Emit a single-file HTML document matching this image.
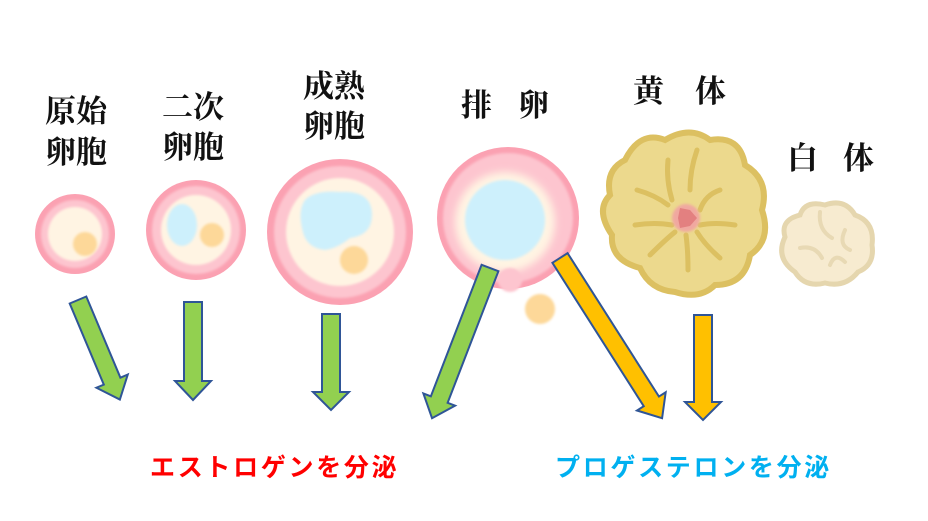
<!DOCTYPE html>
<html><head><meta charset="utf-8"><style>
html,body{margin:0;padding:0;background:#fff;width:928px;height:521px;overflow:hidden}
svg{display:block}
.t{font-family:"Liberation Serif","Noto Serif CJK SC",serif;font-weight:bold;font-size:31px;fill:#111}
.b{font-family:"Liberation Sans","Noto Sans CJK JP",sans-serif;font-weight:bold;font-size:25px;letter-spacing:2.7px}
</style></head><body>
<svg width="928" height="521" viewBox="0 0 928 521" xmlns="http://www.w3.org/2000/svg">
<defs>
<filter id="bl" x="-20%" y="-20%" width="140%" height="140%"><feGaussianBlur stdDeviation="1.2"/></filter>
<filter id="bl2" x="-30%" y="-30%" width="160%" height="160%"><feGaussianBlur stdDeviation="4"/></filter>
</defs>
<text class="t" x="45" y="122">原始</text>
<text class="t" x="45" y="163">卵胞</text>
<text class="t" x="162" y="118">二次</text>
<text class="t" x="162" y="158">卵胞</text>
<text class="t" x="303" y="97">成熟</text>
<text class="t" x="303" y="137">卵胞</text>
<text class="t" x="461" y="116">排</text>
<text class="t" x="518" y="116">卵</text>
<text class="t" x="633" y="102">黄</text>
<text class="t" x="695" y="102">体</text>
<text class="t" x="787" y="169">白</text>
<text class="t" x="843" y="169">体</text>

<!-- follicle 1 -->
<circle cx="75" cy="234" r="40" fill="#fba1b2"/>
<circle cx="75" cy="234" r="34" fill="#fdc5cf" filter="url(#bl)"/>
<circle cx="75" cy="234" r="27" fill="#fff4e3" filter="url(#bl)"/>
<circle cx="85" cy="244" r="12" fill="#fdd899" filter="url(#bl)"/>
<!-- follicle 2 -->
<circle cx="196" cy="230" r="50" fill="#fba1b2"/>
<circle cx="196" cy="230" r="44" fill="#fdc5cf" filter="url(#bl)"/>
<circle cx="196" cy="230" r="35" fill="#fff4e3" filter="url(#bl)"/>
<ellipse cx="182" cy="225" rx="15" ry="21" fill="#cdf0fc" filter="url(#bl)"/>
<circle cx="212" cy="235" r="12" fill="#fdd899" filter="url(#bl)"/>
<!-- follicle 3 -->
<circle cx="340" cy="232" r="73" fill="#fba1b2"/>
<circle cx="340" cy="232" r="66" fill="#fdc5cf" filter="url(#bl)"/>
<circle cx="340" cy="232" r="54" fill="#fff4e3" filter="url(#bl)"/>
<path d="M305,200 Q315,190 340,192 Q372,190 372,215 Q372,235 350,238 Q338,248 325,250 Q305,248 302,228 Q298,210 305,200 Z" fill="#cdf0fc" filter="url(#bl)"/>
<circle cx="354" cy="260" r="14" fill="#fdd899" filter="url(#bl)"/>
<!-- ovulation -->
<circle cx="508" cy="218" r="71" fill="#fba1b2"/>
<circle cx="508" cy="218" r="65" fill="#fdc5cf" filter="url(#bl)"/>
<circle cx="505" cy="222" r="50" fill="#fff4e3" filter="url(#bl2)"/>
<circle cx="505" cy="220" r="40" fill="#cdf0fc" filter="url(#bl)"/>
<circle cx="510" cy="280" r="12" fill="#fdc5cf" filter="url(#bl)"/>
<circle cx="540" cy="309" r="15" fill="#fdd899" filter="url(#bl)"/>
<!-- corpus luteum -->
<path d="M625,160 Q640,130 665,140 Q690,125 710,140 Q740,135 745,165 Q770,180 762,210 Q772,240 750,255 Q745,285 715,285 Q700,300 675,292 Q650,290 640,268 Q610,260 612,235 Q595,210 610,195 Q605,170 625,160 Z" fill="#ecd98d" stroke="#dcc061" stroke-width="6"/>
<g fill="none" stroke="#dcc061" stroke-width="5" stroke-linecap="round">
<path d="M668,160 Q666,180 672,200"/><path d="M697,150 Q690,170 690,190"/>
<path d="M637,190 Q655,195 668,205"/><path d="M720,190 Q705,195 700,210"/>
<path d="M635,225 Q655,222 672,225"/><path d="M735,225 Q715,222 700,225"/>
<path d="M650,255 Q665,240 675,232"/><path d="M688,270 Q688,250 686,235"/><path d="M720,258 Q705,245 697,232"/>
</g>
<circle cx="686" cy="218" r="14" fill="#f0a8a0" filter="url(#bl)"/>
<path d="M680,208 L690,210 L697,218 L690,226 L680,228 L678,218 Z" fill="#e38080"/>
<!-- corpus albicans -->
<path d="M800,215 Q805,200 825,205 Q845,198 855,215 Q875,222 872,245 Q875,265 858,272 Q845,288 825,283 Q805,288 795,272 Q775,258 785,237 Q780,220 800,215 Z" fill="#f7ebd0" stroke="#e5d6ae" stroke-width="5"/>
<g fill="none" stroke="#e8d9b4" stroke-width="4" stroke-linecap="round">
<path d="M820,212 Q818,230 832,238"/><path d="M845,230 Q838,245 850,250"/><path d="M800,248 Q815,245 822,258"/><path d="M830,265 Q835,252 845,262"/>
</g>

<!-- arrows -->
<g stroke="#2f5597" stroke-width="2" stroke-linejoin="miter">
<g transform="translate(78,300) rotate(-22.8)"><polygon fill="#92d050" points="-9,0 9,0 9,88 17,88 0,108 -17,88 -9,88"/></g>
<polygon fill="#92d050" points="184,302 202,302 202,381 211,381 193,400 175,381 184,381"/>
<polygon fill="#92d050" points="322,314 340,314 340,392 349,392 331,410 313,392 322,392"/>
<g transform="translate(490,268) rotate(21.1)"><polygon fill="#92d050" points="-9,0 9,0 9,141 17,141 0,161 -17,141 -9,141"/></g>
<g transform="translate(560,258) rotate(-32.5)"><polygon fill="#ffc000" points="-9,0 9,0 9,170 17,170 0,190 -17,170 -9,170"/></g>
<polygon fill="#ffc000" points="694,315 712,315 712,402 721,402 703,420 685,402 694,402"/>
</g>

<text class="b" x="150" y="476" fill="#ff0000">エストロゲンを分泌</text>
<text class="b" x="555" y="476" fill="#00b0f0">プロゲステロンを分泌</text>
</svg>
</body></html>
